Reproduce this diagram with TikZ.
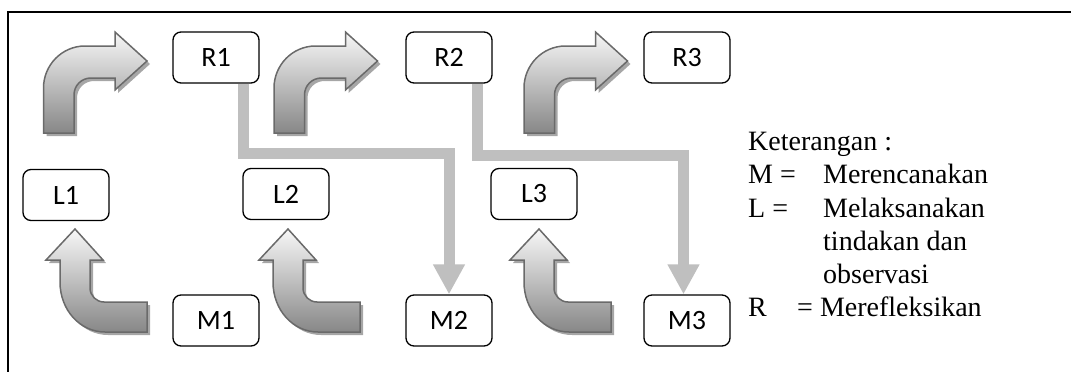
\documentclass[tikz,border=0pt]{standalone}
\usepackage{fontspec}
\setmainfont{Liberation Serif}
\newfontfamily\boxfont{Carlito}
\usetikzlibrary{arrows.meta,calc}
\definecolor{conngray}{HTML}{BFBFBF}
\definecolor{arrline}{HTML}{6A6A6A}
\tikzset{
  box/.style={draw, line width=1.3pt, rounded corners=8pt, fill=white,
    minimum width=86pt, minimum height=51pt, inner sep=0pt,
    font=\boxfont\fontsize{28}{30}\selectfont},
  conn/.style={draw=conngray, line width=11pt,
    -{Triangle[width=30pt,length=30pt]}},
  bigarrow/.style={draw=arrline, line width=1.5pt, line join=miter,
    top color=white!97!black, bottom color=black!47},
  shadowarrow/.style={fill=black!35, draw=none},
  legend/.style={anchor=base west, inner sep=0pt,
    font=\fontsize{28}{33}\selectfont}
}
\newcommand{\toparrowpath}{(43.5,133) -- (43.5,88) .. controls (43.5,65) and (62,46) .. (85,46)
  -- (115,46) -- (115,32) -- (147,61) -- (115,90) -- (115,78) -- (91,78)
  .. controls (81.6,78) and (74,85.4) .. (74,95) -- (74,133) -- cycle}
\newcommand{\botarrowpath}{(75,229) -- (103,260) -- (90,260) -- (90,288)
  .. controls (90,295.7) and (96.3,302) .. (104,302) -- (147,302) -- (147,332)
  -- (105,332) .. controls (80,332) and (60,310) .. (60,282) -- (60,260) -- (46,260) -- cycle}
\begin{document}
\begin{tikzpicture}[x=1pt,y=-1pt]
\useasboundingbox (0,0) rectangle (1071,372);
% frame
\draw[line width=1.3pt] (8,380) -- (8,12) -- (1080,12);
% curved arrows
\foreach \dx in {0,230.5,480.5}{
  \begin{scope}[xshift=\dx pt]
    \fill[shadowarrow,shift={(3pt,-3pt)}] \toparrowpath;
    \path[bigarrow] \toparrowpath;
  \end{scope}
}
\foreach \dx in {0,213,464}{
  \begin{scope}[xshift=\dx pt]
    \fill[shadowarrow,shift={(3pt,-3pt)}] \botarrowpath;
    \path[bigarrow] \botarrowpath;
  \end{scope}
}
% boxes
\node[box] (R1) at (216,57.5) {R1};
\node[box] (R2) at (449,57.5) {R2};
\node[box] (R3) at (687,57.5) {R3};
\node[box] (L1) at (66,195) {L1};
\node[box] (L2) at (286,194) {L2};
\node[box] (L3) at (534,194) {L3};
\node[box] (M1) at (216,320.5) {M1};
\node[box] (M2) at (449,320.5) {M2};
\node[box] (M3) at (687,320.5) {M3};
% connectors
\coordinate (h1) at (449,153.5);
\coordinate (h2) at (683.5,155);
\draw[conn] ([xshift=27.5pt]R1.south) |- (h1) -- (M2.north);
\draw[conn] ([xshift=28.7pt]R2.south) |- (h2) -- (h2 |- M3.north);
% legend
\node[legend] (k0) at (748,150) {Keterangan :};
\node[legend] (k1) at (748,183) {M =};
\node[legend] (k1t) at (823,183) {Merencanakan};
\node[legend] (k2) at (748,217) {L =};
\node[legend] (k2t) at (823,217) {Melaksanakan};
\node[legend] (k3t) at (823,250) {tindakan dan};
\node[legend] (k4t) at (823,283) {observasi};
\node[legend] (k5) at (748,316) {R};
\node[legend] (k5t) at (797,316) {= Merefleksikan};
\end{tikzpicture}
\end{document}
